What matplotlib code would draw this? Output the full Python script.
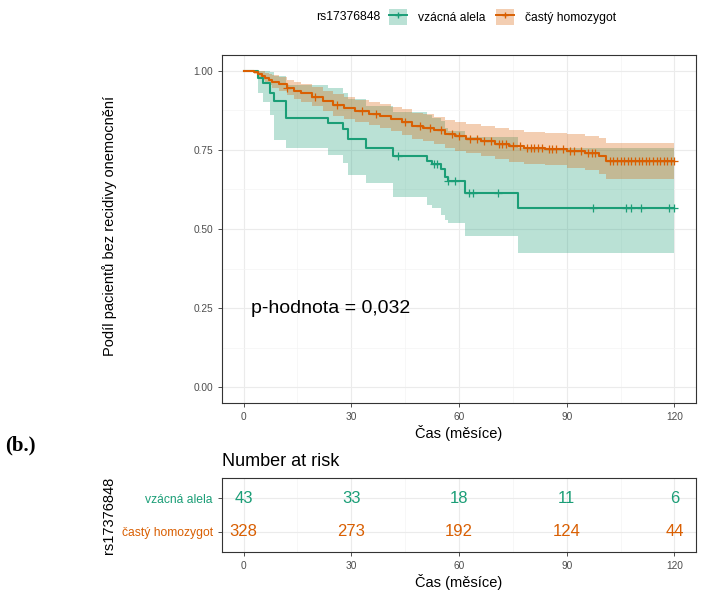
import numpy as np
import matplotlib
matplotlib.use("Agg")
import matplotlib.pyplot as plt
from matplotlib.patches import Patch
from matplotlib.lines import Line2D

plt.rcParams['font.family'] = ['Liberation Sans', 'DejaVu Sans']

# --- data ---
groups = ['vzácná alela', 'častý homozygot']
colors = ['#1B9E77', '#D95F02']

green_t = [0, 3.9, 5.5, 7.5, 8.6, 11.7, 23.4, 27.6, 29, 34.2, 41.6, 51, 52.6, 55, 56, 56.8, 61.8, 76.3, 120]
green_s = [1.0, 0.977, 0.963, 0.93, 0.905, 0.852, 0.836, 0.816, 0.785, 0.756, 0.731, 0.715, 0.705, 0.69, 0.665, 0.652, 0.614, 0.566, 0.566]
green_up = [1, 1, 1, 0.995, 0.985, 0.955, 0.945, 0.93, 0.91, 0.89, 0.87, 0.86, 0.85, 0.84, 0.82, 0.81, 0.79, 0.755, 0.755]
green_lo = [1, 0.93, 0.9, 0.86, 0.78, 0.755, 0.735, 0.71, 0.67, 0.645, 0.6, 0.575, 0.565, 0.545, 0.53, 0.52, 0.478, 0.425, 0.425]
green_cens = [43, 53.1, 54, 56.8, 59, 62.7, 63.8, 70.8, 97.2, 106.4, 107.8, 110.6, 118.6, 120]

orange_t = [0, 3, 4, 5, 6, 7, 8, 10, 12, 14, 16, 19, 22, 25, 28, 31, 35, 38, 41, 44, 47, 50, 53, 56, 59, 62, 66, 70, 74, 78, 84, 90, 95, 99, 101, 120]
orange_s = [1.0, 0.997, 0.99, 0.985, 0.978, 0.972, 0.966, 0.958, 0.947, 0.937, 0.93, 0.918, 0.905, 0.892, 0.882, 0.873, 0.865, 0.857, 0.848, 0.838,
            0.826, 0.82, 0.812, 0.80, 0.793, 0.786, 0.778, 0.77, 0.762, 0.757, 0.753, 0.746, 0.74, 0.73, 0.715, 0.715]
orange_up = [1, 1, 1, 0.998, 0.994, 0.99, 0.986, 0.98, 0.972, 0.964, 0.958, 0.948, 0.937, 0.926, 0.917, 0.909, 0.902, 0.895, 0.887, 0.878,
             0.867, 0.862, 0.855, 0.845, 0.839, 0.833, 0.826, 0.819, 0.812, 0.808, 0.805, 0.799, 0.795, 0.787, 0.772, 0.772]
orange_lo = [1, 0.99, 0.98, 0.972, 0.962, 0.954, 0.946, 0.936, 0.922, 0.91, 0.902, 0.888, 0.873, 0.858, 0.847, 0.837, 0.828, 0.819, 0.809, 0.798,
             0.785, 0.778, 0.769, 0.755, 0.747, 0.739, 0.73, 0.721, 0.712, 0.706, 0.701, 0.693, 0.685, 0.673, 0.658, 0.658]
orange_cens = [12, 20, 26, 33, 37, 45, 49, 52, 55, 58, 60, 63, 65, 67, 69, 71, 72, 73, 75, 77, 79, 80, 81, 82, 83, 85, 86, 87, 89, 91,
               92, 94, 96, 97, 98, 102, 103, 104, 105, 106, 107, 108, 109, 110, 111, 112, 113, 114, 115, 116, 117, 118, 119, 120]

risk_times = [0, 30, 60, 90, 120]
risk_green = [43, 33, 18, 11, 6]
risk_orange = [328, 273, 192, 124, 44]

W, H = 701, 591
fig = plt.figure(figsize=(W / 100, H / 100), dpi=100)

def box(l, t, r, b):
    return [l / W, 1 - b / H, (r - l) / W, (b - t) / H]

def style(ax):
    for s in ax.spines.values():
        s.set_color('#333333')
        s.set_linewidth(0.8)
    ax.tick_params(colors='#333333', labelcolor='#4D4D4D', labelsize=7.3, length=3, width=0.6)
    ax.grid(True, which='major', color='#EBEBEB', lw=0.8)
    ax.grid(True, which='minor', color='#F4F4F4', lw=0.5)
    ax.set_axisbelow(True)

# main survival panel
ax = fig.add_axes(box(222, 55, 696, 403))
style(ax)
ax.set_xlim(-6, 126)
ax.set_ylim(-0.05, 1.05)
ax.set_xticks(risk_times)
ax.set_xticks([15, 45, 75, 105], minor=True)
ax.set_yticks([0, 0.25, 0.5, 0.75, 1.0])
ax.set_yticklabels(['0.00', '0.25', '0.50', '0.75', '1.00'])
ax.set_yticks([0.125, 0.375, 0.625, 0.875], minor=True)
ax.tick_params(which='minor', length=0)

curves = [(green_t, green_s, green_up, green_lo, green_cens),
          (orange_t, orange_s, orange_up, orange_lo, orange_cens)]
for (t, s, up, lo, cens), c in zip(curves, colors):
    ax.fill_between(t, lo, up, step='post', color=c, alpha=0.3, lw=0)
for (t, s, up, lo, cens), c in zip(curves, colors):
    ax.step(t, s, where='post', color=c, lw=1.5)
    idx = np.searchsorted(t, cens, side='right') - 1
    ax.plot(cens, np.array(s)[idx], ls='none', marker='+', color=c, ms=5.5, mew=0.9)

ax.text(2, 0.25, 'p-hodnota = 0,032', fontsize=14, va='center', ha='left', color='black')
ax.set_xlabel('Čas (měsíce)', fontsize=10.5, labelpad=2)
ax.set_ylabel('Podíl pacientů bez recidivy onemocnění', fontsize=10.5)
ax.yaxis.set_label_coords((117 - 222) / 474, 0.51)

# legend
fig.text(380 / W, 1 - 17 / H, 'rs17376848', fontsize=8.7, va='center', ha='right', color='black')
handles = [(Patch(facecolor=c, alpha=0.3, lw=0), Line2D([], [], color=c, marker='+', lw=1.4, ms=5)) for c in colors]
fig.legend(handles, groups, loc='center left', bbox_to_anchor=(389 / W, 1 - 17 / H), ncol=2, frameon=False,
           fontsize=8.7, handlelength=1.5, handleheight=1.65, columnspacing=0.85, handletextpad=0.9,
           borderpad=0, borderaxespad=0)

# risk table
rax = fig.add_axes(box(222, 478, 696, 552))
style(rax)
rax.set_xlim(-6, 126)
rax.set_ylim(0.4, 2.6)
rax.set_xticks(risk_times)
rax.set_xticks([15, 45, 75, 105], minor=True)
rax.tick_params(which='minor', length=0)
rax.set_yticks([2, 1])
rax.set_yticklabels(groups, fontsize=8.7)
for lab, c in zip(rax.get_yticklabels(), colors):
    lab.set_color(c)
for x, ng, no in zip(risk_times, risk_green, risk_orange):
    rax.text(x, 2, str(ng), ha='center', va='center', fontsize=12, color=colors[0])
    rax.text(x, 1, str(no), ha='center', va='center', fontsize=12, color=colors[1])
rax.set_xlabel('Čas (měsíce)', fontsize=10.5, labelpad=2)
rax.set_ylabel('rs17376848', fontsize=10.5)
rax.yaxis.set_label_coords((116 - 222) / 474, 0.5)
fig.text(222 / W, 1 - 462 / H, 'Number at risk', fontsize=13, va='center', ha='left')

fig.text(5 / W, 1 - 445 / H, '(b.)', fontsize=15, fontweight='bold', family='Liberation Serif', va='center')

fig.savefig('out.png', dpi=100)
